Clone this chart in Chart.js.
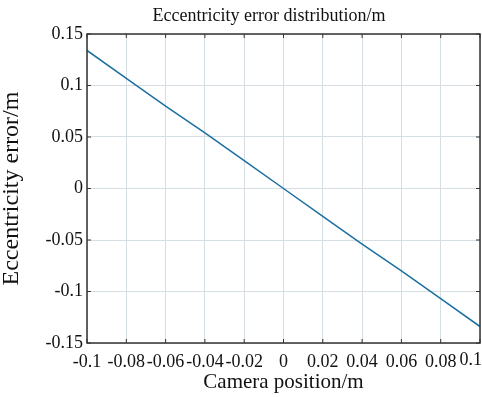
<!DOCTYPE html>
<html>
<head>
<meta charset="utf-8">
<script src="https://cdn.jsdelivr.net/npm/chart.js@4.4.0/dist/chart.umd.min.js"></script>
<style>
  html, body { margin: 0; padding: 0; background: #fff; }
  #wrap { width: 482px; height: 397px; }
</style>
</head>
<body>
<div id="wrap"><canvas id="grafico" width="482" height="397"></canvas></div>
<script>
// camera position (m) and eccentricity error (m)
const posicoes = [-0.1, -0.08, -0.06, -0.04, -0.02, 0, 0.02, 0.04, 0.06, 0.08, 0.1];
const erros = [0.134, 0.107, 0.080, 0.054, 0.027, 0, -0.027, -0.054, -0.080, -0.107, -0.134];

const ticksX = [-0.1, -0.08, -0.06, -0.04, -0.02, 0, 0.02, 0.04, 0.06, 0.08, 0.1];
const rotulosX = ['-0.1', '-0.08', '-0.06', '-0.04', '-0.02', '0', '0.02', '0.04', '0.06', '0.08', '0.1'];
const ticksY = [-0.15, -0.1, -0.05, 0, 0.05, 0.1, 0.15];
const rotulosY = ['-0.15', '-0.1', '-0.05', '0', '0.05', '0.1', '0.15'];
const titulo = 'Eccentricity error distribution/m';

const fonte = 'Liberation Serif, Times New Roman, serif';

// box around the plot with small inward ticks, like matlab
// also the title (a bit left of the plot centre) and the last x label, pushed inside the canvas
const caixa = {
    id: 'caixa',
    afterDraw(chart) {
        const ctx = chart.ctx;
        const a = chart.chartArea;
        const sx = chart.scales.x, sy = chart.scales.y;
        ctx.save();
        ctx.strokeStyle = '#333';
        ctx.lineWidth = 1.5;
        ctx.strokeRect(a.left, a.top, a.right - a.left, a.bottom - a.top);
        ctx.lineWidth = 1;
        ctx.beginPath();
        ticksX.forEach(v => {
            const px = sx.getPixelForValue(v);
            ctx.moveTo(px, a.bottom); ctx.lineTo(px, a.bottom - 4);
            ctx.moveTo(px, a.top); ctx.lineTo(px, a.top + 4);
        });
        ticksY.forEach(v => {
            const py = sy.getPixelForValue(v);
            ctx.moveTo(a.left, py); ctx.lineTo(a.left + 4, py);
            ctx.moveTo(a.right, py); ctx.lineTo(a.right - 4, py);
        });
        ctx.stroke();

        ctx.fillStyle = '#111';
        ctx.font = '18px ' + fonte;
        ctx.textAlign = 'center';
        ctx.textBaseline = 'middle';
        ctx.fillText(titulo, 269, 16);

        ctx.font = '18px ' + fonte;
        ctx.textAlign = 'right';
        ctx.fillText(rotulosX[rotulosX.length - 1], chart.width, a.bottom + 17);
        ctx.restore();
    }
};

let grafico = new Chart(document.getElementById('grafico').getContext('2d'), {
    type: 'scatter',
    data: {
        datasets: [{
            label: 'Eccentricity error',
            data: posicoes.map((x, i) => ({ x: x, y: erros[i] })),
            borderColor: '#1b6fa0',
            borderWidth: 1.5,
            pointRadius: 0,
            showLine: true,
            fill: false
        }]
    },
    options: {
        responsive: false,
        animation: false,
        layout: { padding: { left: 0, right: 2, top: 34, bottom: 0 } },
        plugins: {
            legend: { display: false },
            tooltip: { enabled: false },
            title: { display: false }
        },
        scales: {
            x: {
                type: 'linear',
                min: -0.1,
                max: 0.1,
                afterBuildTicks: s => { s.ticks = ticksX.map(v => ({ value: v })); },
                afterFit: s => { s.height = 54; s.paddingLeft = 0; s.paddingRight = 0; },
                grid: { color: '#d5dee2', lineWidth: 1, drawTicks: false },
                border: { display: false },
                ticks: {
                    color: '#111',
                    padding: 8,
                    maxRotation: 0,
                    autoSkip: false,
                    font: { family: fonte, size: 18 },
                    callback: (v, i) => i === rotulosX.length - 1 ? '' : rotulosX[i]
                },
                title: {
                    display: true,
                    text: 'Camera position/m',
                    color: '#111',
                    font: { family: fonte, size: 21 },
                    padding: { top: 0, bottom: 2 }
                }
            },
            y: {
                type: 'linear',
                min: -0.15,
                max: 0.15,
                afterBuildTicks: s => { s.ticks = ticksY.map(v => ({ value: v })); },
                afterFit: s => { s.width = 87; s.paddingTop = 0; s.paddingBottom = 0; },
                grid: { color: '#d5dee2', lineWidth: 1, drawTicks: false },
                border: { display: false },
                ticks: {
                    color: '#111',
                    padding: 4,
                    autoSkip: false,
                    font: { family: fonte, size: 18 },
                    callback: (v, i) => rotulosY[i]
                },
                title: {
                    display: true,
                    text: 'Eccentricity error/m',
                    color: '#111',
                    font: { family: fonte, size: 24, lineHeight: 1 },
                    padding: { top: 0, bottom: 0 }
                }
            }
        }
    },
    plugins: [caixa]
});
</script>
</body>
</html>
